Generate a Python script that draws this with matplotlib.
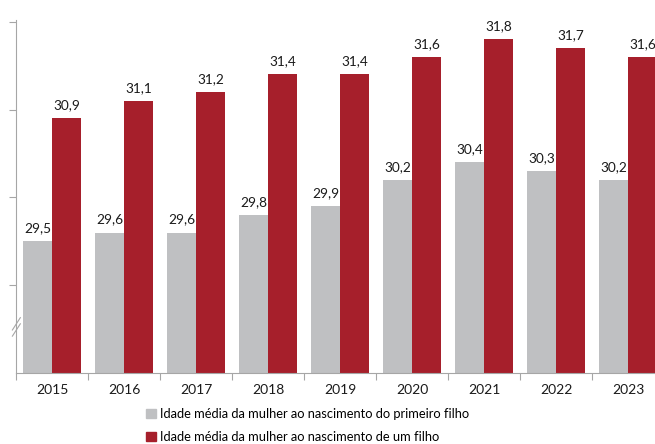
"""Idade média da mulher ao nascimento de filhos, 2015-2023."""

import matplotlib
matplotlib.use("Agg")
import matplotlib.pyplot as plt
import numpy as np
from matplotlib.patches import Patch

plt.rcParams['font.family'] = ['Lato', 'DejaVu Sans']

years = ['2015', '2016', '2017', '2018', '2019', '2020', '2021', '2022', '2023']
first_child = [29.5, 29.6, 29.6, 29.8, 29.9, 30.2, 30.4, 30.3, 30.2]
any_child = [30.9, 31.1, 31.2, 31.4, 31.4, 31.6, 31.8, 31.7, 31.6]
series_labels = [
    'Idade média da mulher ao nascimento do primeiro filho',
    'Idade média da mulher ao nascimento de um filho',
]

GRAY = '#bfc0c2'
RED = '#a61f2b'
AXIS = '#a6a6a6'
BASE = 28.0

fig = plt.figure(figsize=(6.55, 4.44), dpi=100)
ax = fig.add_axes([16 / 655, 1 - 373 / 444, 648 / 655, 353 / 444])

x = np.arange(len(years))
w = 0.4
b1 = ax.bar(x - w / 2, np.array(first_child) - BASE, w, bottom=BASE, color=GRAY)
b2 = ax.bar(x + w / 2, np.array(any_child) - BASE, w, bottom=BASE, color=RED)

for bars, vals in ((b1, first_child), (b2, any_child)):
    for rect, v in zip(bars, vals):
        ax.annotate(f'{v:.1f}'.replace('.', ','),
                    (rect.get_x() + rect.get_width() / 2, v),
                    xytext=(0, 5), textcoords='offset points',
                    ha='center', va='bottom', fontsize=9.8, color='#1a1a1a')

ax.set_xlim(-0.5, len(years) - 0.5)
ax.set_ylim(BASE, 32.02)

# y axis: ticks only, no labels
ax.set_yticks([29, 30, 31, 32])
ax.set_yticklabels([])
ax.tick_params(axis='y', length=5, color=AXIS, width=0.8)

# x axis: tick marks between categories, labels in the centre
ax.set_xticks(x)
ax.set_xticklabels(years, fontsize=10, color='#1a1a1a')
ax.set_xticks(np.arange(-0.5, len(years)), minor=True)
ax.tick_params(axis='x', which='major', length=0, pad=8)
ax.tick_params(axis='x', which='minor', length=5, color=AXIS, width=0.8)

for s in ('top', 'right'):
    ax.spines[s].set_visible(False)
for s in ('left', 'bottom'):
    ax.spines[s].set_color(AXIS)
    ax.spines[s].set_linewidth(0.8)

# axis break marks
for dy in (0, 0.07):
    ax.plot([-0.55, -0.44], [28.42 + dy, 28.56 + dy], color=AXIS, lw=0.8,
            clip_on=False, transform=ax.transData)

fig.legend(handles=[Patch(color=GRAY), Patch(color=RED)], labels=series_labels,
           loc='upper left', bbox_to_anchor=(146 / 655, 1 - 408 / 444),
           frameon=False, fontsize=9.3, handlelength=0.8, handleheight=0.8,
           handletextpad=0.3, labelspacing=0.85, borderaxespad=0, borderpad=0)

fig.savefig('out.png', dpi=100)
